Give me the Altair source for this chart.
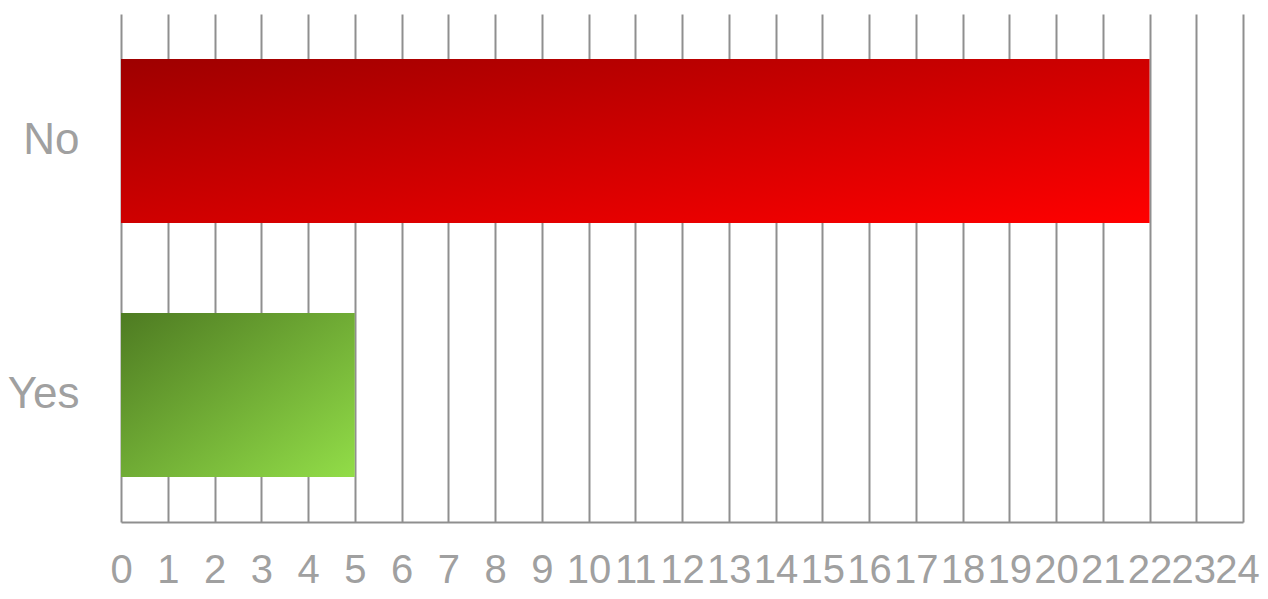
import altair as alt
import pandas as pd

categories = ["No", "Yes"]
counts = [22, 5]
x_ticks = list(range(0, 25))

df = pd.DataFrame({"answer": categories, "count": counts})

FONT = "Liberation Sans, Arial, sans-serif"
GRID = "#8f8f8f"
LABEL = "#a0a0a0"

base = alt.Chart(df).encode(
    x=alt.X(
        "count:Q",
        scale=alt.Scale(domain=[0, 24], nice=False, zero=True),
        axis=alt.Axis(
            values=x_ticks,
            grid=True,
            gridColor=GRID,
            gridWidth=2,
            domain=True,
            domainColor=GRID,
            domainWidth=2,
            ticks=False,
            labelFont=FONT,
            labelFontSize=40,
            labelColor=LABEL,
            labelPadding=28,
            labelFlush=False,
            labelOverlap=False,
            labelOffset={
                "condition": [
                    {"test": "datum.value == 24", "value": -6},
                    {"test": "datum.value == 23", "value": -3},
                ],
                "value": 0,
            },
            title=None,
        ),
    ),
    y=alt.Y(
        "answer:N",
        sort=categories,
        scale=alt.Scale(paddingInner=0.354, paddingOuter=0.177),
        axis=alt.Axis(
            grid=False,
            domain=False,
            ticks=False,
            labelFont=FONT,
            labelFontSize=44,
            labelColor=LABEL,
            labelPadding=42,
            title=None,
        ),
    ),
)

red = base.transform_filter(alt.datum.answer == "No").mark_bar(
    color=alt.LinearGradient(
        gradient="linear",
        stops=[
            alt.GradientStop(color="#9e0000", offset=0),
            alt.GradientStop(color="#ff0000", offset=1),
        ],
        x1=0, y1=0, x2=1, y2=1,
    )
)

green = base.transform_filter(alt.datum.answer == "Yes").mark_bar(
    color=alt.LinearGradient(
        gradient="linear",
        stops=[
            alt.GradientStop(color="#4e7b22", offset=0),
            alt.GradientStop(color="#92dd48", offset=1),
        ],
        x1=0, y1=0, x2=1, y2=1,
    )
)

chart = (
    alt.layer(red, green)
    .properties(
        width=1122,
        height=508,
        padding={"left": 113, "top": 6, "right": 17, "bottom": 69},
        autosize=alt.AutoSizeParams(type="none"),
    )
    .configure_view(stroke=None)
)

chart.save("out.html", embed_options={"renderer": "svg", "actions": False})
